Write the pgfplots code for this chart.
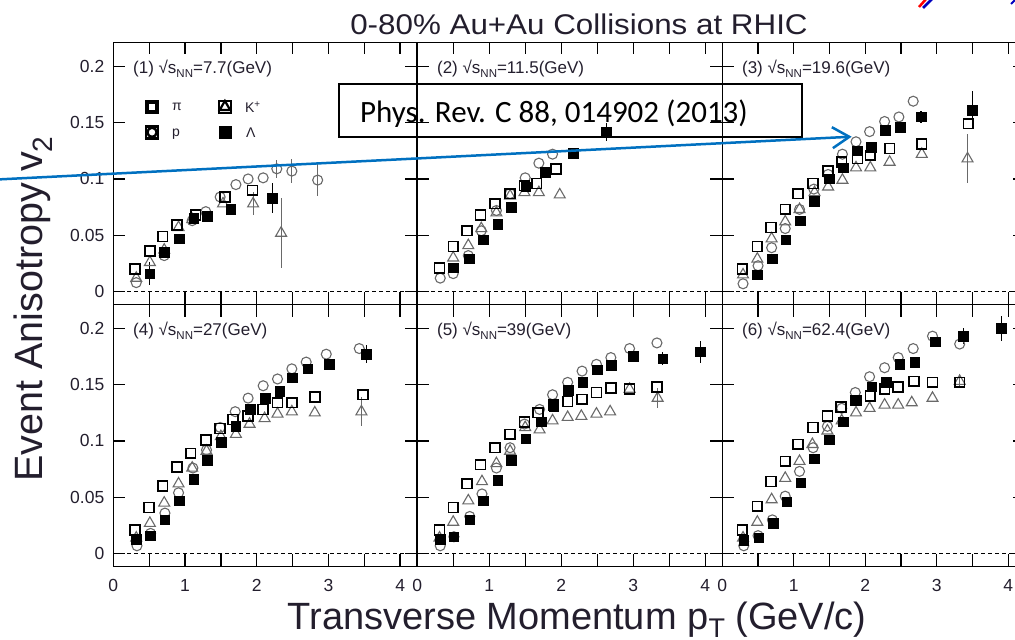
\documentclass[border=0pt]{standalone}
\usepackage{fontspec}
\setmainfont{Liberation Sans}
\newfontfamily\calibri{Carlito}
\usepackage{pgfplots}
\pgfplotsset{compat=1.18}
\usetikzlibrary{arrows.meta}
\definecolor{officeblue}{RGB}{0,112,192}
\definecolor{mkgray}{RGB}{105,105,105}
\definecolor{txt}{RGB}{35,30,45}
\newcommand{\lab}[2]{(#1) √s\raisebox{-4.5pt}{\fontsize{11.5}{11.5}\selectfont NN}=#2(GeV)}
\tikzset{plabel/.style={anchor=base west, inner sep=0pt, text=txt, font=\fontsize{17}{17}\selectfont}}

\pgfplotsset{
  panel/.style={
    scale only axis, anchor=south west,
    xmin=0, xmax=4.238, ymin=-0.0114, ymax=0.2211,
    height=262pt,
    axis line style={line width=1.5pt},
    tick style={line width=1.3pt, black},
    major tick length=12pt, minor tick length=12pt,
    tick align=inside,
    xtick={0,1,2,3,4}, minor xtick={0.5,1.5,2.5,3.5},
    ytick={0,0.05,0.1,0.15,0.2},
    xticklabels={}, yticklabels={},
    xticklabel style={font=\fontsize{17.5}{17.5}\selectfont, text=txt, inner sep=0pt, anchor=north, yshift=-12.5pt},
    yticklabel style={font=\fontsize{17.5}{17.5}\selectfont, text=txt, inner sep=0pt, anchor=east, xshift=-8.8pt},
  },
  leftcol/.style={yticklabels={0,0.05,0.1,0.15,0.2}},
  bottomrow/.style={xticklabels={0,1,2,3,4}},
  ebar/.style={error bars/y dir=both, error bars/y explicit, error bars/error mark=none,
     error bars/error bar style={line width=1.2pt, #1}},
  pip/.style={only marks, black, mark=square, mark size=4.9pt, mark options={line width=1.6pt, solid}, ebar=black, forget plot},
  pp/.style={only marks, mkgray, mark=o, mark size=5pt, mark options={line width=1.1pt, solid}, ebar=mkgray, forget plot},
  kp/.style={only marks, mkgray, mark=triangle, mark size=6.3pt, mark options={line width=1.1pt, solid}, ebar=mkgray, forget plot},
  lp/.style={only marks, black, mark=square*, mark size=4.8pt, mark options={line width=0.6pt, solid, fill=black}, ebar=black, forget plot},
  zline/.style={forget plot, black, line width=1.1pt, dash pattern=on 4pt off 3pt},
  myleg/.style={legend image code/.code={\draw[##1] plot coordinates {(0pt,0pt)}; \path (-6pt,-6pt) rectangle (6pt,6pt);}},
}

\begin{document}
\begin{tikzpicture}[x=1pt,y=1pt]
\useasboundingbox (0,0) rectangle (1015,640);

% ---------- Panel 1 ----------
\begin{axis}[panel, leftcol, at={(113.3pt,335.5pt)}, width=303.9pt,
  legend style={at={(axis cs:0.437,0.1705)}, anchor=north west, draw=none, fill=none,
    inner sep=0pt, font=\fontsize{14}{14}\selectfont, text=txt,
    nodes={inner sep=0pt, text depth=0pt}, row sep=11pt, column sep=0pt},
  legend columns=2, legend cell align=left]
\addplot[zline] coordinates {(0,0) (4.238,0)};
\addplot[pp] coordinates {(0.32,0.008) (0.71,0.032) (1.10,0.063) (1.29,0.071) (1.49,0.084) (1.71,0.095) (1.88,0.100) (2.09,0.101) (2.28,0.109) +- (0,0.008) (2.49,0.107) +- (0,0.011) (2.85,0.099) +- (0,0.014)};
\addplot[kp] coordinates {(0.32,0.012) (0.51,0.026) (0.71,0.037) (0.91,0.057) (1.10,0.064) (1.53,0.078) (1.95,0.078) +- (0,0.010) (2.34,0.052) +- (0,0.031)};
\addplot[pip] coordinates {(0.30,0.020) (0.51,0.036) (0.69,0.049) (0.89,0.059) (1.15,0.068) (1.56,0.084) (1.94,0.090)};
\addplot[lp] coordinates {(0.51,0.016) +- (0,0.010) (0.71,0.035) (0.92,0.047) (1.12,0.065) (1.31,0.067) (1.64,0.073) (2.22,0.083) +- (0,0.013)};
\node[plabel] at (axis cs:0.274,0.194) {\lab{1}{7.7}};
\addlegendimage{myleg, black, mark=square, mark size=4.5pt, line width=2.4pt}
\addlegendimage{myleg, black, mark=triangle, mark size=6pt, line width=2.2pt}
\addlegendimage{myleg, black, mark=o, mark size=4.6pt, line width=2.4pt}
\addlegendimage{myleg, black, mark=square*, mark size=4.8pt, line width=0.5pt, fill=black}
\legend{\makebox[58.6pt][l]{\hspace{13pt}π},\makebox[40pt][l]{\hspace{13pt}K\textsuperscript{+}},\makebox[58.6pt][l]{\hspace{13pt}p},\makebox[40pt][l]{\hspace{14pt}Λ}}
\end{axis}

% ---------- Panel 2 ----------
\begin{axis}[panel, at={(417.2pt,335.5pt)}, width=305.1pt]
\addplot[zline] coordinates {(0,0) (4.238,0)};
\addplot[pp] coordinates {(0.32,0.012) (0.50,0.016) (0.71,0.032) (0.89,0.054) (1.10,0.072) (1.29,0.087) (1.50,0.101) (1.69,0.114) (1.88,0.122)};
\addplot[kp] coordinates {(0.50,0.030) (0.71,0.041) (0.89,0.056) (1.10,0.070) (1.29,0.085) (1.49,0.088) (1.69,0.088) (1.98,0.086)};
\addplot[pip] coordinates {(0.31,0.021) (0.50,0.040) (0.69,0.054) (0.88,0.068) (1.08,0.078) (1.29,0.087) (1.49,0.094) (1.66,0.096) (1.93,0.109)};
\addplot[lp] coordinates {(0.50,0.021) (0.72,0.029) (0.92,0.046) (1.12,0.060) (1.31,0.075) (1.51,0.093) (1.78,0.106) (2.17,0.123) (2.63,0.142) +- (0,0.008)};
\node[plabel] at (axis cs:0.274,0.194) {\lab{2}{11.5}};
\end{axis}

% ---------- Panel 3 ----------
\begin{axis}[panel, at={(722.3pt,335.5pt)}, width=303.0pt]
\addplot[zline] coordinates {(0,0) (4.238,0)};
\addplot[pp] coordinates {(0.29,0.007) (0.50,0.023) (0.69,0.039) (0.88,0.056) (1.08,0.073) (1.28,0.091) (1.48,0.104) (1.68,0.122) (1.87,0.133) (2.06,0.142) (2.27,0.151) (2.47,0.155) (2.67,0.169)};
\addplot[kp] coordinates {(0.29,0.015) (0.49,0.029) (0.69,0.047) (0.88,0.062) (1.08,0.073) (1.29,0.088) (1.48,0.093) (1.68,0.099) (1.87,0.110) (2.07,0.110) (2.34,0.115) (2.79,0.122) (3.43,0.118) +- (0,0.022)};
\addplot[pip] coordinates {(0.28,0.020) (0.49,0.040) (0.68,0.057) (0.88,0.073) (1.06,0.087) (1.27,0.096) (1.48,0.107) (1.67,0.115) (1.89,0.118) (2.07,0.121) (2.34,0.127) (2.79,0.131) (3.44,0.149)};
\addplot[lp] coordinates {(0.49,0.015) (0.70,0.029) (0.89,0.046) (1.09,0.063) (1.29,0.080) (1.50,0.100) (1.69,0.110) (1.89,0.125) (2.08,0.128) (2.28,0.143) (2.49,0.146) +- (0,0.005) (2.78,0.155) +- (0,0.005) (3.50,0.161) +- (0,0.017)};
\node[plabel] at (axis cs:0.274,0.194) {\lab{3}{19.6}};
\end{axis}

% ---------- Panel 4 ----------
\begin{axis}[panel, leftcol, bottomrow, at={(113.3pt,73.5pt)}, width=303.9pt]
\addplot[zline] coordinates {(0,0) (4.238,0)};
\addplot[pp] coordinates {(0.33,0.007) (0.52,0.018) (0.72,0.036) (0.91,0.054) (1.11,0.076) (1.30,0.092) (1.49,0.112) (1.70,0.126) (1.88,0.138) (2.09,0.149) (2.29,0.155) (2.49,0.164) (2.69,0.170) (2.97,0.177) (3.43,0.182)};
\addplot[kp] coordinates {(0.32,0.014) (0.51,0.027) (0.71,0.045) (0.91,0.062) (1.10,0.076) (1.30,0.091) (1.50,0.104) (1.71,0.106) (1.90,0.115) (2.11,0.120) (2.29,0.124) (2.49,0.126) (2.81,0.125) (3.46,0.126) +- (0,0.013)};
\addplot[pip] coordinates {(0.30,0.021) (0.50,0.041) (0.69,0.060) (0.89,0.077) (1.08,0.089) (1.29,0.101) (1.49,0.111) (1.67,0.119) (1.88,0.122) (2.09,0.128) (2.29,0.134) (2.49,0.134) (2.81,0.139) (3.48,0.141)};
\addplot[lp] coordinates {(0.32,0.013) (0.52,0.016) (0.72,0.030) (0.92,0.047) (1.12,0.066) (1.31,0.083) (1.51,0.099) (1.71,0.113) (1.91,0.128) (2.12,0.138) (2.32,0.144) (2.50,0.156) (2.71,0.164) (3.01,0.168) (3.53,0.177) +- (0,0.008)};
\node[plabel] at (axis cs:0.274,0.194) {\lab{4}{27}};
\end{axis}

% ---------- Panel 5 ----------
\begin{axis}[panel, bottomrow, at={(417.2pt,73.5pt)}, width=305.1pt]
\addplot[zline] coordinates {(0,0) (4.238,0)};
\addplot[pp] coordinates {(0.32,0.007) (0.51,0.015) (0.73,0.033) (0.90,0.053) (1.10,0.076) (1.29,0.094) (1.49,0.115) (1.70,0.128) (1.88,0.141) (2.09,0.152) (2.29,0.162) (2.49,0.168) (2.69,0.174) (2.95,0.182) (3.33,0.187)};
\addplot[kp] coordinates {(0.31,0.014) (0.50,0.028) (0.71,0.047) (0.90,0.064) (1.10,0.080) (1.29,0.091) (1.50,0.112) (1.70,0.110) (1.88,0.118) (2.09,0.121) (2.28,0.122) (2.49,0.124) (2.68,0.126) (2.95,0.146) (3.34,0.138) +- (0,0.009)};
\addplot[pip] coordinates {(0.31,0.021) (0.50,0.041) (0.69,0.062) (0.88,0.079) (1.08,0.094) (1.29,0.106) (1.49,0.117) (1.68,0.125) (1.89,0.132) (2.09,0.135) (2.29,0.137) (2.49,0.143) (2.69,0.147) (2.95,0.146) (3.33,0.148)};
\addplot[lp] coordinates {(0.32,0.013) (0.51,0.015) (0.73,0.030) (0.92,0.047) (1.12,0.065) (1.31,0.083) (1.51,0.102) (1.72,0.117) (1.90,0.131) (2.10,0.145) (2.30,0.152) (2.50,0.163) (2.70,0.167) (3.00,0.175) (3.41,0.173) +- (0,0.006) (3.93,0.179) +- (0,0.010)};
\node[plabel] at (axis cs:0.274,0.194) {\lab{5}{39}};
\end{axis}

% ---------- Panel 6 ----------
\begin{axis}[panel, bottomrow, at={(722.3pt,73.5pt)}, width=303.0pt]
\addplot[zline] coordinates {(0,0) (4.238,0)};
\addplot[pp] coordinates {(0.30,0.007) (0.50,0.016) (0.70,0.030) (0.88,0.051) (1.08,0.073) (1.27,0.094) (1.47,0.113) (1.67,0.129) (1.86,0.143) (2.06,0.157) (2.27,0.165) (2.46,0.174) (2.67,0.182) (2.94,0.193) (3.32,0.186)};
\addplot[kp] coordinates {(0.29,0.014) (0.49,0.028) (0.69,0.048) (0.88,0.067) (1.08,0.082) (1.26,0.097) (1.47,0.109) (1.67,0.118) (1.87,0.125) (2.06,0.129) (2.27,0.132) (2.46,0.132) (2.65,0.134) (2.94,0.138) (3.32,0.153) +- (0,0.006)};
\addplot[pip] coordinates {(0.28,0.021) (0.49,0.042) (0.68,0.064) (0.88,0.082) (1.06,0.097) (1.27,0.112) (1.47,0.122) (1.66,0.130) (1.87,0.136) (2.07,0.140) (2.27,0.146) (2.46,0.148) (2.68,0.153) (2.94,0.152) (3.32,0.152)};
\addplot[lp] coordinates {(0.30,0.012) (0.51,0.014) (0.71,0.027) (0.90,0.046) (1.10,0.063) (1.29,0.084) (1.50,0.101) (1.69,0.117) (1.87,0.136) (2.09,0.148) (2.29,0.152) (2.48,0.168) (2.69,0.170) (2.98,0.188) (3.37,0.193) +- (0,0.007) (3.90,0.200) +- (0,0.011)};
\node[plabel] at (axis cs:0.274,0.194) {\lab{6}{62.4}};
\end{axis}

% ---------- Titles and labels ----------
\node[anchor=base, inner sep=0pt, xscale=1.1, text=txt] at (579,605.7) {\fontsize{28.5}{28.5}\selectfont 0-80\% Au+Au Collisions at RHIC};
\node[anchor=base, inner sep=0pt, text=txt] at (577,10) {\fontsize{38}{38}\selectfont Transverse Momentum p\raisebox{-8pt}{\fontsize{27}{27}\selectfont T} (GeV/c)};
\node[anchor=base, inner sep=0pt, rotate=90, text=txt] at (42,331) {\fontsize{39.5}{39.5}\selectfont Event Anisotropy v\raisebox{-10pt}{\fontsize{28}{28}\selectfont 2}};

% ---------- Annotation ----------
\draw[line width=2pt] (339.3,502.7) rectangle (801.7,556);
\node[anchor=base west, inner sep=0pt] at (360,517.3) {\calibri\fontsize{31}{31}\selectfont Phys. Rev. C 88, 014902 (2013)};
\draw[officeblue, line width=2.5pt, -{Straight Barb[length=17pt, width=21pt]}] (-3,460.5) -- (851.7,503.3);

% corner fragments
\draw[red, line width=2.5pt] (919,633) -- (927,642);
\draw[blue!75!black, line width=2.8pt] (923,632) -- (934,643);
\draw[blue!75!black, line width=2pt] (1011,636) -- (1016,641);
\end{tikzpicture}
\end{document}
